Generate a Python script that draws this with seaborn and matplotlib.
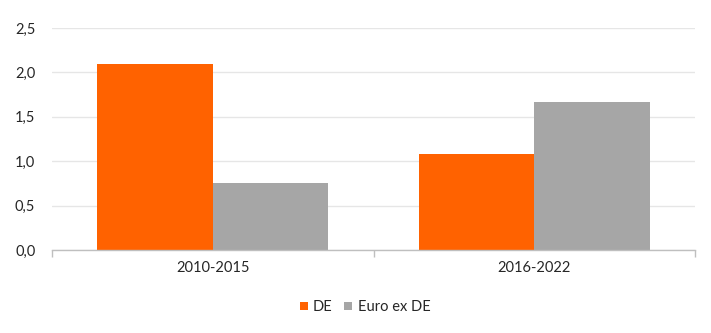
import matplotlib
matplotlib.use("Agg")
import matplotlib.pyplot as plt
import seaborn as sns
import pandas as pd
from matplotlib.ticker import FuncFormatter, MultipleLocator

categories = ["2010-2015", "2016-2022"]
series_names = ["DE", "Euro ex DE"]
de_values = [2.10, 1.08]
euro_ex_de_values = [0.76, 1.67]
colors = {"DE": "#FF6200", "Euro ex DE": "#A6A6A6"}

df = pd.DataFrame({
    "period": categories * 2,
    "series": [series_names[0]] * 2 + [series_names[1]] * 2,
    "value": de_values + euro_ex_de_values,
})

sns.set_theme(style="white")
plt.rcParams['font.family'] = ['Lato', 'DejaVu Sans']

fig = plt.figure(figsize=(7.11, 3.33), dpi=100)
ax = fig.add_axes([52/711, 1-250/333, (695-52)/711, (250-28)/333])

sns.barplot(data=df, x="period", y="value", hue="series", palette=colors,
            width=0.72, gap=0, ax=ax, legend=True, saturation=1,
            edgecolor="none")

ax.set_ylim(0, 2.5)
ax.set_xlim(-0.5, 1.5)
ax.yaxis.set_major_locator(MultipleLocator(0.5))
ax.yaxis.set_major_formatter(FuncFormatter(lambda v, p: f"{v:.1f}".replace(".", ",")))
ax.grid(axis="y", color="#E6E6E6", linewidth=1)
ax.set_axisbelow(True)
for s in ["left", "right", "top"]:
    ax.spines[s].set_visible(False)
ax.spines["bottom"].set_color("#BFBFBF")
ax.spines["bottom"].set_linewidth(1)
ax.set_xlabel("")
ax.set_ylabel("")
ax.set_xticks([-0.5, 0.5, 1.5], minor=False)
ax.set_xticklabels([])
ax.set_xticks([0, 1], minor=True)
ax.set_xticklabels(categories, minor=True)
ax.tick_params(axis="x", which="major", length=5, color="#BFBFBF", width=1, direction="out", bottom=True)
ax.tick_params(axis="x", which="minor", length=0, pad=8, labelsize=10.5, labelcolor="#262626")
ax.tick_params(axis="y", length=0, pad=12, labelsize=10.5, labelcolor="#262626")

handles, labels = ax.get_legend_handles_labels()
ax.legend(handles, labels, loc="center", bbox_to_anchor=(0.487, -0.257), ncol=2,
          frameon=False, fontsize=10.5, handlelength=0.55, handleheight=0.55,
          handletextpad=0.35, columnspacing=0.8, labelcolor="#262626")

fig.savefig("out.png", dpi=100)
